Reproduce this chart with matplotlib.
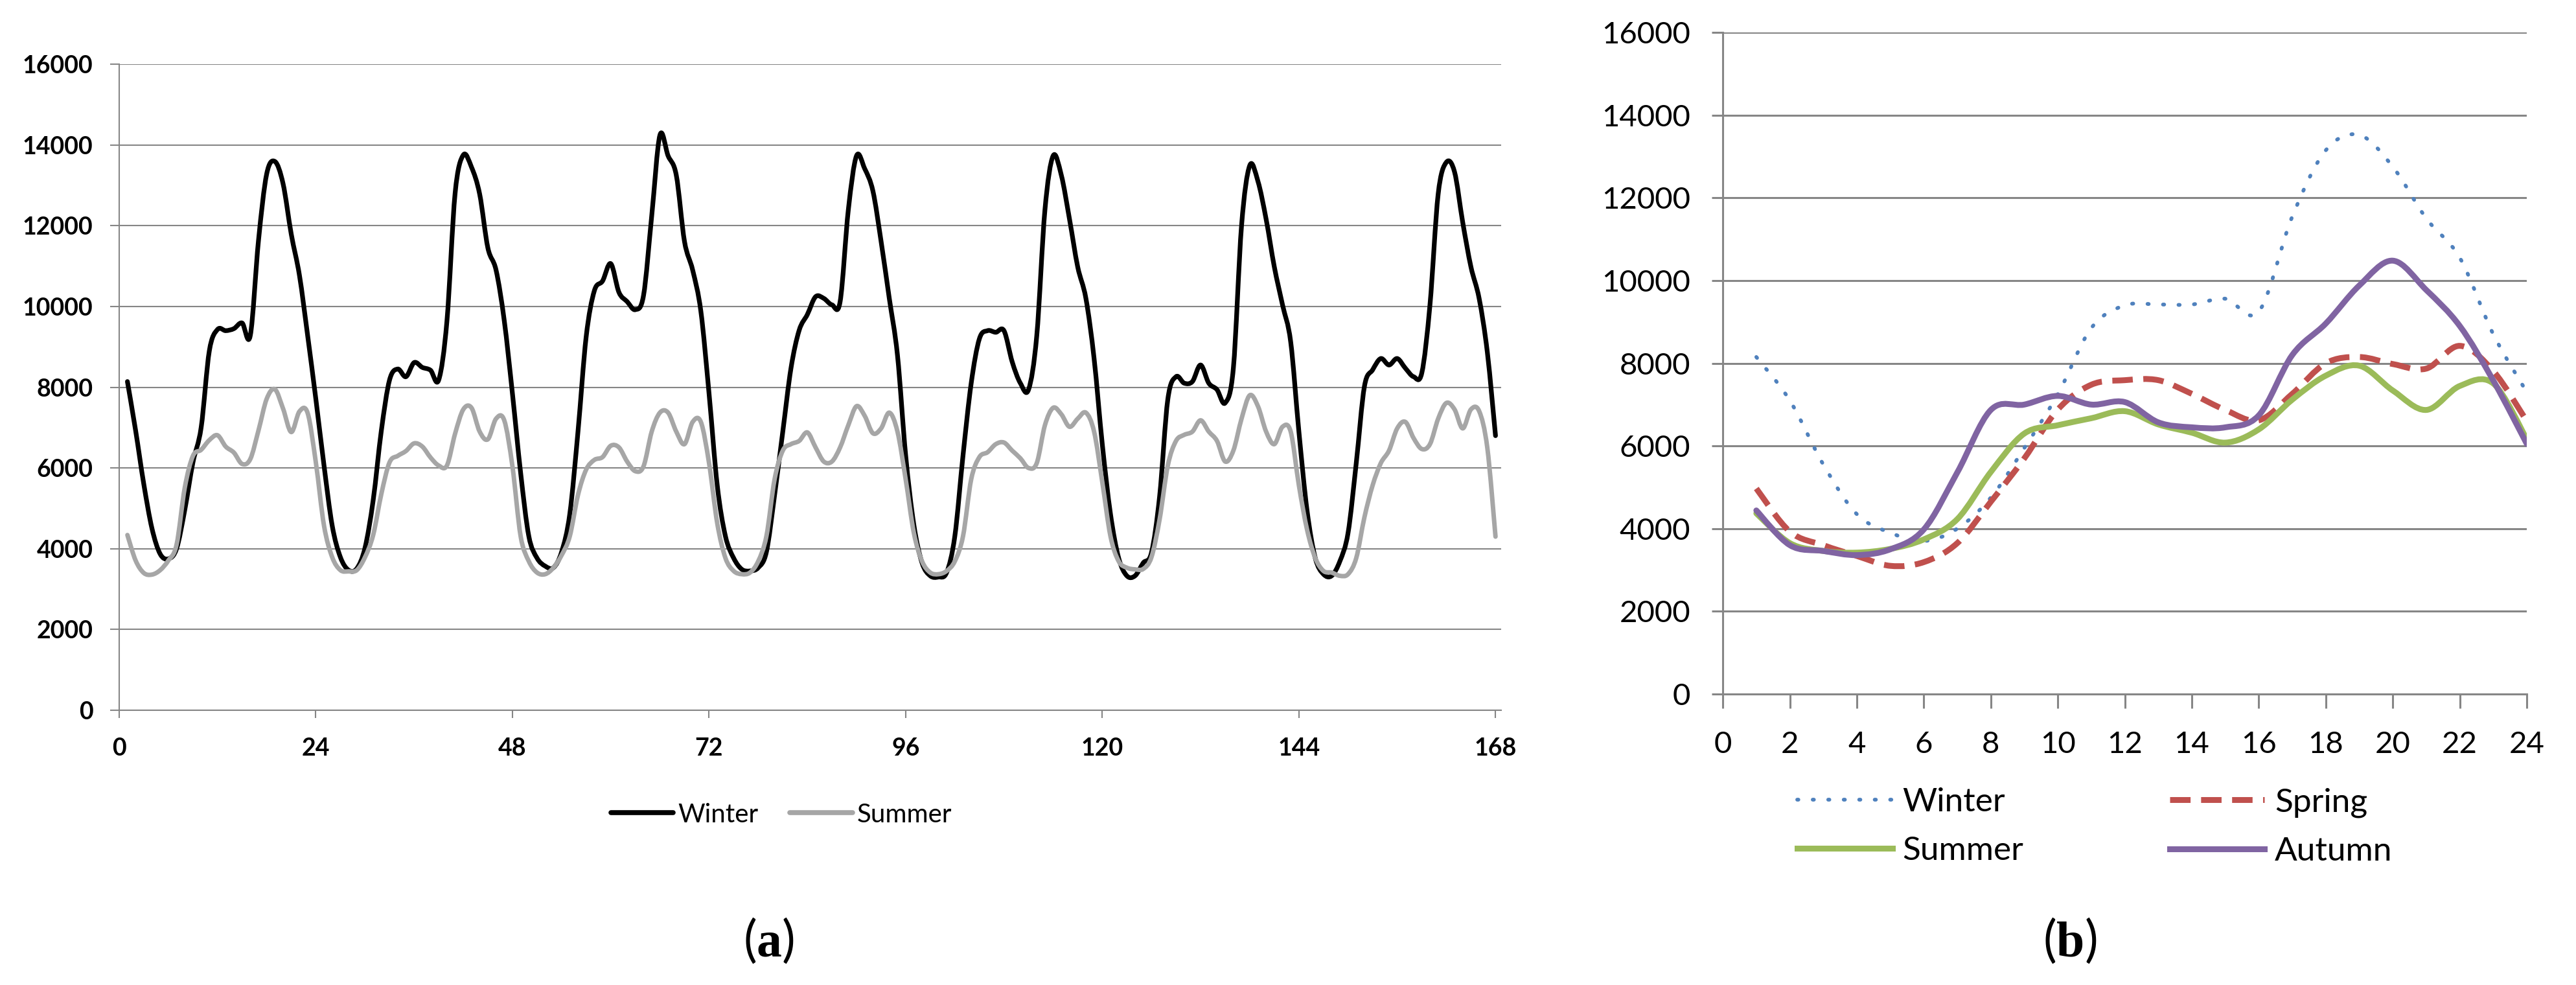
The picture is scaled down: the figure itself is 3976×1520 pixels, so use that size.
import numpy as np
import matplotlib
matplotlib.use("Agg")
import matplotlib.pyplot as plt
from matplotlib.path import Path
from matplotlib.patches import PathPatch
from matplotlib.lines import Line2D

plt.rcParams['font.family'] = ['Lato', 'DejaVu Sans']
plt.rcParams['mathtext.fontset'] = 'custom'
plt.rcParams['mathtext.rm'] = 'Liberation Serif'
plt.rcParams['mathtext.bf'] = 'Liberation Serif:bold'

# (a) one week, hourly load
week_hours = np.arange(1, 169)
winter_week = [
    8140, 6930, 5600, 4500, 3870, 3750, 4000, 4960, 6140, 7000, 8900, 9430,
    9400, 9450, 9590, 9280, 11630, 13280, 13590, 13040, 11790, 10770, 9280, 7710,
    6060, 4570, 3790, 3470, 3510, 4020, 5200, 6930, 8180, 8450, 8260, 8610,
    8490, 8420, 8180, 9630, 12800, 13750, 13450, 12780, 11450, 10900, 9650, 7840,
    5880, 4310, 3770, 3570, 3530, 3920, 4860, 6900, 9250, 10390, 10630, 11060,
    10350, 10120, 9920, 10270, 12240, 14240, 13730, 13250, 11610, 10900, 9880, 7840,
    5570, 4310, 3770, 3490, 3450, 3530, 3920, 5330, 6900, 8470, 9410, 9800,
    10240, 10200, 10040, 10120, 12390, 13730, 13410, 12860, 11610, 10200, 8790, 6310,
    4590, 3650, 3330, 3300, 3410, 4310, 6310, 8100, 9200, 9400, 9360, 9400,
    8630, 8100, 7940, 9270, 12390, 13730, 13250, 12160, 10980, 10200, 8710, 6590,
    4860, 3770, 3330, 3330, 3650, 3900, 5300, 7700, 8260, 8100, 8140, 8550,
    8100, 7940, 7610, 8470, 12000, 13490, 13100, 12160, 10980, 10040, 9120, 6900,
    4940, 3770, 3370, 3330, 3690, 4390, 6120, 8020, 8430, 8710, 8550, 8710,
    8470, 8260, 8350, 10040, 12780, 13570, 13330, 12080, 10980, 10200, 8870, 6800,
]
summer_week = [
    4340, 3710, 3400, 3360, 3470, 3710, 4100, 5510, 6300, 6450, 6690, 6810,
    6530, 6380, 6100, 6220, 6930, 7710, 7950, 7470, 6890, 7400, 7360, 6140,
    4570, 3790, 3470, 3440, 3470, 3790, 4340, 5360, 6140, 6300, 6420, 6610,
    6530, 6260, 6060, 6060, 6850, 7450, 7490, 6900, 6710, 7220, 7180, 6040,
    4310, 3690, 3410, 3370, 3530, 3840, 4310, 5330, 5960, 6200, 6270, 6550,
    6510, 6160, 5920, 6040, 6900, 7370, 7370, 6900, 6590, 7140, 7140, 6120,
    4630, 3770, 3450, 3370, 3410, 3690, 4310, 5720, 6430, 6590, 6670, 6880,
    6510, 6160, 6160, 6510, 7060, 7530, 7290, 6860, 6980, 7370, 6900, 5720,
    4390, 3690, 3410, 3370, 3450, 3690, 4310, 5720, 6270, 6390, 6590, 6630,
    6430, 6240, 6000, 6120, 7060, 7490, 7330, 7020, 7220, 7370, 6900, 5650,
    4310, 3690, 3530, 3490, 3500, 3790, 4730, 6060, 6670, 6820, 6900, 7180,
    6900, 6670, 6160, 6430, 7220, 7800, 7530, 6900, 6590, 7020, 6900, 5570,
    4470, 3770, 3450, 3410, 3330, 3370, 3770, 4780, 5570, 6120, 6430, 6980,
    7140, 6740, 6470, 6590, 7220, 7610, 7450, 6980, 7450, 7410, 6500, 4300,
]

# (b) average day per season
day_hours = np.arange(1, 25)
winter_day = [8150, 7100, 5550, 4350, 3900, 3700, 4000, 4750, 5950, 7250, 8850, 9400,
              9420, 9420, 9560, 9250, 11550, 13150, 13520, 12750, 11500, 10550, 8700, 7300]
spring_day = [4970, 3930, 3600, 3340, 3100, 3190, 3650, 4650, 5700, 6880, 7480, 7590,
              7590, 7260, 6870, 6620, 7260, 8000, 8150, 7980, 7870, 8420, 7810, 6600]
summer_day = [4370, 3650, 3460, 3420, 3510, 3740, 4230, 5370, 6300, 6500, 6670, 6840,
              6520, 6320, 6080, 6400, 7120, 7700, 7940, 7340, 6870, 7450, 7510, 6160]
autumn_day = [4440, 3600, 3460, 3360, 3500, 3980, 5360, 6870, 7000, 7210, 7000, 7060,
              6570, 6450, 6450, 6740, 8200, 8960, 9880, 10480, 9770, 8900, 7580, 6050]

GRID = '#868686'


# smoothed line like the spreadsheet did it (bezier through the points)
def smooth_path(x, y):
    x = np.asarray(x, float)
    y = np.asarray(y, float)
    px = np.concatenate([[x[0]], x, [x[-1]]])
    py = np.concatenate([[y[0]], y, [y[-1]]])
    verts = [(x[0], y[0])]
    codes = [Path.MOVETO]
    for i in range(len(x) - 1):
        c1 = (x[i] + (px[i + 2] - px[i]) / 6, y[i] + (py[i + 2] - py[i]) / 6)
        c2 = (x[i + 1] - (px[i + 3] - px[i + 1]) / 6, y[i + 1] - (py[i + 3] - py[i + 1]) / 6)
        verts += [c1, c2, (x[i + 1], y[i + 1])]
        codes += [Path.CURVE4] * 3
    return Path(verts, codes)


def add_curve(ax, x, y, **kw):
    patch = PathPatch(smooth_path(x, y), fill=False, **kw)
    ax.add_patch(patch)


def style_axes(ax, grid_lw, tick_len_x, tick_len_y, pad_x, pad_y, size, weight):
    for s in ['top', 'right']:
        ax.spines[s].set_visible(False)
    for s in ['left', 'bottom']:
        ax.spines[s].set_color(GRID)
        ax.spines[s].set_linewidth(grid_lw)
    ax.yaxis.grid(True, color=GRID, lw=grid_lw)
    ax.set_axisbelow(True)
    ax.tick_params(axis='x', direction='out', length=tick_len_x, width=grid_lw,
                   color=GRID, pad=pad_x, labelsize=size)
    ax.tick_params(axis='y', direction='out', length=tick_len_y, width=grid_lw,
                   color=GRID, pad=pad_y, labelsize=size)
    for lab in ax.get_xticklabels() + ax.get_yticklabels():
        lab.set_fontweight(weight)


fig = plt.figure(figsize=(39.76, 15.2), dpi=100)

# ---- (a)
ax1 = fig.add_axes([0.04628, 0.2789, 0.5365, 0.6560])
ax1.set_xlim(0, 168.7)
ax1.set_ylim(0, 16000)
ax1.set_xticks(np.arange(0, 169, 24))
ax1.set_yticks(np.arange(0, 16001, 2000))
add_curve(ax1, week_hours, winter_week, edgecolor='black', lw=5.2,
          joinstyle='round', capstyle='round', zorder=3)
add_curve(ax1, week_hours, summer_week, edgecolor='#A6A6A6', lw=5.0,
          joinstyle='round', capstyle='round', zorder=4)
style_axes(ax1, 1.5, 8.5, 10, 22, 19, 27, 'bold')

h1 = [Line2D([], [], color='black', lw=5.5, solid_capstyle='round'),
      Line2D([], [], color='#A6A6A6', lw=5.5, solid_capstyle='round')]
fig.legend(h1, ['Winter', 'Summer'], loc='center', bbox_to_anchor=(0.3033, 0.173),
           ncol=2, frameon=False, fontsize=29, handlelength=2.4, handletextpad=0.18,
           columnspacing=1.2, borderpad=0)

# ---- (b)
ax2 = fig.add_axes([0.6688, 0.2954, 0.3121, 0.6717])
ax2.set_xlim(0, 24)
ax2.set_ylim(0, 16000)
ax2.set_xticks(np.arange(0, 25, 2))
ax2.set_yticks(np.arange(0, 16001, 2000))
winter_style = dict(edgecolor='#4F81BD', lw=4.2, linestyle=(0, (0.3, 3.8)), capstyle='round')
spring_style = dict(edgecolor='#C0504D', lw=6.5, linestyle=(0, (3.5, 1.8)), capstyle='butt')
add_curve(ax2, day_hours, winter_day, zorder=3, **winter_style)
add_curve(ax2, day_hours, spring_day, zorder=4, **spring_style)
add_curve(ax2, day_hours, summer_day, edgecolor='#9BBB59', lw=6.5,
          joinstyle='round', capstyle='round', zorder=5)
add_curve(ax2, day_hours, autumn_day, edgecolor='#8064A2', lw=6.5,
          joinstyle='round', capstyle='round', zorder=6)
style_axes(ax2, 2.2, 16, 12, 25, 24, 34, 'normal')

h2 = [Line2D([], [], color='#4F81BD', lw=4.2, linestyle=(0, (0.3, 3.8)), dash_capstyle='round'),
      Line2D([], [], color='#9BBB59', lw=6.5),
      Line2D([], [], color='#C0504D', lw=6.5, linestyle=(0, (3.5, 1.8))),
      Line2D([], [], color='#8064A2', lw=6.5)]
fig.legend(h2, ['Winter', 'Summer', 'Spring', 'Autumn'], loc='center',
           bbox_to_anchor=(0.8132, 0.1605), ncol=2, frameon=False, fontsize=37,
           handlelength=2.85, handletextpad=0.3, columnspacing=4.4,
           labelspacing=0.57, borderpad=0)

fig.text(0.2985, 0.0447, r'($\mathbf{a}$)', ha='center', va='center', fontsize=56)
fig.text(0.8036, 0.0447, r'($\mathbf{b}$)', ha='center', va='center', fontsize=56)

fig.savefig('out.png', dpi=100, facecolor='white')
